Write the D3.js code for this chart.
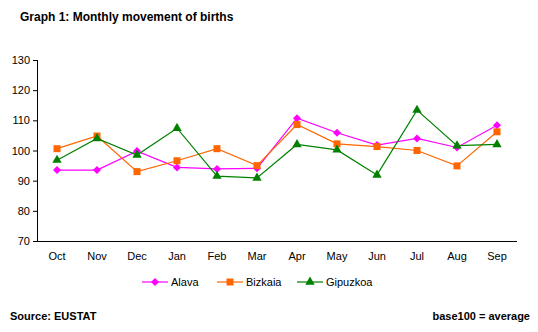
<!DOCTYPE html>
<html><head><meta charset="utf-8">
<script src="https://cdn.jsdelivr.net/npm/d3@7"></script>
<style>body{margin:0;background:#fff}svg{display:block;font-family:"Liberation Sans",Arial,sans-serif}</style>
</head><body><svg id="c" width="538" height="332"></svg>
<script>
const categories = ["Oct","Nov","Dec","Jan","Feb","Mar","Apr","May","Jun","Jul","Aug","Sep"];
const alava    = [93.5, 93.5, 99.8, 94.4, 93.9, 94.1, 110.7, 105.9, 101.8, 104.0, 101.0, 108.4];
const bizkaia  = [100.6, 104.8, 93.0, 96.6, 100.6, 95.0, 108.6, 102.2, 101.3, 100.0, 94.9, 106.2];
const gipuzkoa = [96.8, 104.0, 98.5, 107.4, 91.5, 90.9, 102.0, 100.2, 91.9, 113.4, 101.6, 102.0];
const yTicks = [70, 80, 90, 100, 110, 120, 130];
const seriesNames = ["Alava", "Bizkaia", "Gipuzkoa"];

const series = [
  {name: seriesNames[0], values: alava, color: "#FF00FF", sym: d3.symbolSquare, size: 32, rot: 45},
  {name: seriesNames[1], values: bizkaia, color: "#FF6600", sym: d3.symbolSquare, size: 49, rot: 0},
  {name: seriesNames[2], values: gipuzkoa, color: "#008000", sym: d3.symbolTriangle, size: 38, rot: 0}
];

const svg = d3.select("#c");
const L = 37, R = 517, T = 60, B = 241;
const x = d3.scaleBand().domain(categories).range([L, R]);
const y = d3.scaleLinear().domain([70, 130]).range([B, T]);

svg.append("text").attr("x", 20).attr("y", 21).attr("font-size", 12).attr("font-weight", "bold").text("Graph 1: Monthly movement of births");

// y axis
const ya = svg.append("g").attr("transform", `translate(${L},0)`).call(d3.axisLeft(y).tickValues(yTicks).tickSize(4).tickPadding(3));
ya.selectAll("text").attr("font-size", 11).attr("font-family", "Liberation Sans, Arial, sans-serif").attr("fill", "#000");
ya.selectAll("line, path").attr("stroke", "#000");
ya.select("path").attr("d", `M0.5,${T}V${B}`);

// x axis
const xa = svg.append("g").attr("transform", `translate(0,${B})`).call(d3.axisBottom(x).tickSize(0).tickPadding(11));
xa.selectAll("text").attr("font-size", 11).attr("font-family", "Liberation Sans, Arial, sans-serif").attr("fill", "#000");
xa.select("path").attr("stroke", "#000").attr("d", `M${L},0.5H${R}`);

const line = d3.line().x((d, i) => x(categories[i]) + x.bandwidth() / 2).y(d => y(d));
series.forEach(s => {
  svg.append("path").attr("d", line(s.values)).attr("fill", "none").attr("stroke", s.color).attr("stroke-width", 1.2);
});
series.forEach(s => {
  svg.selectAll(null).data(s.values).enter().append("path")
    .attr("d", d3.symbol().type(s.sym).size(s.size))
    .attr("transform", (d, i) => `translate(${x(categories[i]) + x.bandwidth() / 2},${y(d)}) rotate(${s.rot})`)
    .attr("fill", s.color);
});

// legend
const legX = [142, 217, 297];
series.forEach((s, i) => {
  const g = svg.append("g").attr("transform", `translate(${legX[i]},282)`);
  g.append("line").attr("x1", 0).attr("x2", 26).attr("stroke", s.color).attr("stroke-width", 1.2);
  g.append("path").attr("d", d3.symbol().type(s.sym).size(s.size)).attr("transform", `translate(13,0) rotate(${s.rot})`).attr("fill", s.color);
  g.append("text").attr("x", 29).attr("y", 4).attr("font-size", 11).text(s.name);
});

svg.append("text").attr("x", 10).attr("y", 320).attr("font-size", 11).attr("font-weight", "bold").text("Source: EUSTAT");
svg.append("text").attr("x", 530).attr("y", 320).attr("text-anchor", "end").attr("font-size", 11).attr("font-weight", "bold").text("base100 = average");
</script></body></html>
